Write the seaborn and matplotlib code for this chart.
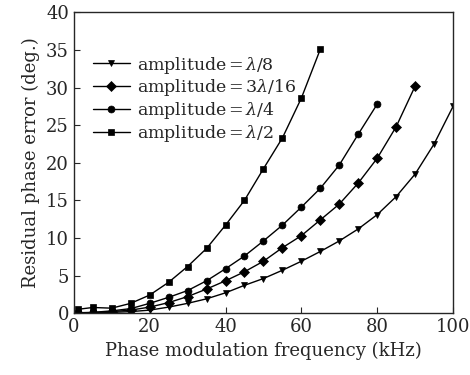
import numpy as np
import matplotlib.pyplot as plt
import seaborn as sns
import pandas as pd

# values
freq = [1, 5, 10, 15, 20, 25, 30, 35, 40, 45, 50, 55, 60, 65, 70, 75, 80, 85, 90, 95, 100]
err_l8 = [0.01, 0.03, 0.1, 0.2, 0.4, 0.8, 1.3, 1.9, 2.7, 3.7, 4.6, 5.7, 6.9, 8.2, 9.6, 11.2, 13.1, 15.5, 18.5, 22.5, 27.5]
err_3l16 = [0.03, 0.07, 0.2, 0.4, 0.8, 1.4, 2.2, 3.2, 4.3, 5.5, 6.9, 8.7, 10.3, 12.4, 14.5, 17.3, 20.6, 24.8, 30.2]
err_l4 = [0.05, 0.1, 0.3, 0.6, 1.3, 2.1, 3.0, 4.3, 5.9, 7.6, 9.6, 11.7, 14.1, 16.6, 19.7, 23.8, 27.8]
err_l2 = [0.5, 0.75, 0.66, 1.3, 2.4, 4.1, 6.2, 8.6, 11.7, 15.0, 19.2, 23.3, 28.6, 35.1]

labels = [r"amplitude$\,$=$\,\lambda$/8", r"amplitude$\,$=$\,$3$\lambda$/16",
          r"amplitude$\,$=$\,\lambda$/4", r"amplitude$\,$=$\,\lambda$/2"]
series = [err_l8, err_3l16, err_l4, err_l2]

rows = []
for lab, vals in zip(labels, series):
    for f, v in zip(freq, vals):
        rows.append({"freq": f, "err": v, "amp": lab})
df = pd.DataFrame(rows)

sns.set_style("ticks")
plt.rcParams['font.family'] = ['DejaVu Serif']
plt.rcParams['mathtext.fontset'] = 'dejavuserif'

fig = plt.figure(figsize=(4.7, 3.75), dpi=100)
ax = fig.add_axes([0.157, 0.165, 0.807, 0.802])

sns.lineplot(data=df, x="freq", y="err", hue="amp", style="amp",
             palette=["black"] * 4, markers=["v", "D", "o", "s"], dashes=False,
             markersize=5, markeredgewidth=0.5, linewidth=1,
             markeredgecolor="black", ax=ax)

ax.set_xlim(0, 100)
ax.set_ylim(0, 40)
ax.set_xticks([0, 20, 40, 60, 80, 100])
ax.set_yticks(range(0, 41, 5))
ax.tick_params(direction="in", length=4, labelsize=13, top=False, right=False)
for s in ax.spines.values():
    s.set_visible(True)
    s.set_linewidth(1)
ax.set_xlabel("Phase modulation frequency (kHz)", fontsize=13)
ax.set_ylabel("Residual phase error (deg.)", fontsize=13)

leg = ax.legend(loc="upper left", bbox_to_anchor=(0.033, 0.883), frameon=False,
                fontsize=12.5, handlelength=2.1, handletextpad=0.4, labelspacing=0.1,
                borderaxespad=0)

fig.savefig("out.png", dpi=100)
